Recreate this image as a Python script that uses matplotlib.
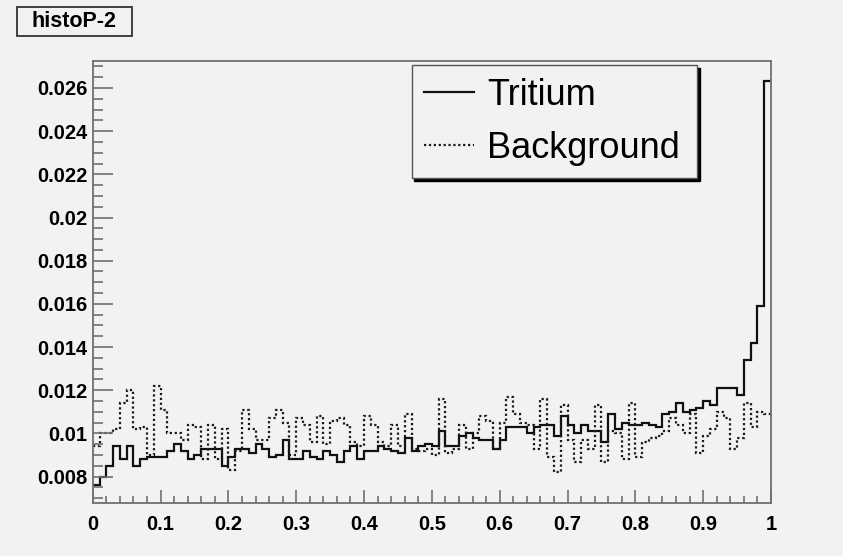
import numpy as np
import matplotlib
matplotlib.use("Agg")
import matplotlib.pyplot as plt
from matplotlib.ticker import MultipleLocator, FixedLocator, FixedFormatter
from matplotlib.patches import Rectangle

# bin contents, 100 bins between 0 and 1
tritium = [
    0.0076, 0.0080, 0.0085, 0.0094, 0.0088, 0.0094, 0.0085, 0.0088, 0.0089, 0.0089,
    0.0089, 0.0092, 0.0095, 0.0092, 0.0088, 0.0090, 0.0093, 0.0093, 0.0093, 0.0085,
    0.0089, 0.0093, 0.0093, 0.0091, 0.0095, 0.0093, 0.0089, 0.0090, 0.0097, 0.0088,
    0.0088, 0.0092, 0.0089, 0.0088, 0.0092, 0.0090, 0.0087, 0.0092, 0.0094, 0.0088,
    0.0092, 0.0092, 0.0094, 0.0093, 0.0092, 0.0091, 0.0098, 0.0092, 0.0094, 0.0095,
    0.0094, 0.0101, 0.0094, 0.0094, 0.0099, 0.0100, 0.0098, 0.0097, 0.0097, 0.0093,
    0.0097, 0.0103, 0.0103, 0.0103, 0.0100, 0.0103, 0.0104, 0.0104, 0.0099, 0.0108,
    0.0104, 0.0100, 0.0104, 0.0101, 0.0101, 0.0096, 0.0109, 0.0102, 0.0105, 0.0104,
    0.0104, 0.0105, 0.0104, 0.0103, 0.0109, 0.0110, 0.0114, 0.0110, 0.0111, 0.0112,
    0.0115, 0.0113, 0.0121, 0.0121, 0.0121, 0.0118, 0.0134, 0.0142, 0.0159, 0.0263,
]
background = [
    0.0094, 0.0100, 0.0100, 0.0102, 0.0114, 0.0120, 0.0102, 0.0103, 0.0090, 0.0122,
    0.0111, 0.0100, 0.0100, 0.0097, 0.0104, 0.0103, 0.0088, 0.0104, 0.0088, 0.0102,
    0.0083, 0.0092, 0.0111, 0.0102, 0.0097, 0.0097, 0.0107, 0.0111, 0.0105, 0.0090,
    0.0107, 0.0104, 0.0096, 0.0108, 0.0095, 0.0106, 0.0107, 0.0104, 0.0096, 0.0094,
    0.0108, 0.0104, 0.0096, 0.0094, 0.0104, 0.0094, 0.0109, 0.0093, 0.0092, 0.0093,
    0.0090, 0.0116, 0.0091, 0.0093, 0.0104, 0.0093, 0.0100, 0.0108, 0.0106, 0.0093,
    0.0105, 0.0117, 0.0109, 0.0105, 0.0104, 0.0093, 0.0116, 0.0089, 0.0082, 0.0113,
    0.0097, 0.0087, 0.0097, 0.0093, 0.0113, 0.0087, 0.0101, 0.0100, 0.0088, 0.0114,
    0.0089, 0.0096, 0.0098, 0.0099, 0.0101, 0.0107, 0.0104, 0.0100, 0.0109, 0.0091,
    0.0099, 0.0102, 0.0110, 0.0107, 0.0093, 0.0098, 0.0114, 0.0103, 0.0110, 0.0109,
]
bin_edges = np.linspace(0.0, 1.0, len(tritium) + 1)

x_ticks = [0.0, 0.1, 0.2, 0.3, 0.4, 0.5, 0.6, 0.7, 0.8, 0.9, 1.0]
x_labels = ["0", "0.1", "0.2", "0.3", "0.4", "0.5", "0.6", "0.7", "0.8", "0.9", "1"]
y_ticks = [0.008, 0.010, 0.012, 0.014, 0.016, 0.018, 0.020, 0.022, 0.024, 0.026]
y_labels = ["0.008", "0.01", "0.012", "0.014", "0.016", "0.018", "0.02", "0.022", "0.024", "0.026"]

plt.rcParams["font.family"] = ["Liberation Sans", "DejaVu Sans"]
bg = "#f2f2f2"
frame_col = "#707070"

fig = plt.figure(figsize=(8.43, 5.56), dpi=100, facecolor=bg)
ax = fig.add_axes([0.110, 0.0953, 0.8046, 0.7955])
ax.set_facecolor(bg)

ax.stairs(tritium, bin_edges, baseline=None, color="#111111", lw=1.6, label="Tritium")
ax.stairs(background, bin_edges, baseline=None, color="#1a1a1a", lw=1.6,
          ls=(0, (1, 1.2)), label="Background")

ax.set_xlim(0, 1)
ax.set_ylim(0.00678, 0.02726)

ax.xaxis.set_major_locator(FixedLocator(x_ticks))
ax.xaxis.set_major_formatter(FixedFormatter(x_labels))
ax.xaxis.set_minor_locator(MultipleLocator(0.02))
ax.yaxis.set_major_locator(FixedLocator(y_ticks))
ax.yaxis.set_major_formatter(FixedFormatter(y_labels))
ax.yaxis.set_minor_locator(MultipleLocator(0.0005))

for s in ax.spines.values():
    s.set_color(frame_col)
    s.set_linewidth(1.3)

ax.tick_params(which="both", direction="in", color=frame_col, width=1.2,
               labelcolor="black", labelsize=14.5)
ax.tick_params(axis="y", which="major", length=14.5, pad=4)
ax.tick_params(axis="y", which="minor", length=7.2)
ax.tick_params(axis="x", which="major", length=9.5, pad=8.5)
ax.tick_params(axis="x", which="minor", length=4.8)
for lbl in ax.get_xticklabels() + ax.get_yticklabels():
    lbl.set_fontweight("bold")

leg = ax.legend(loc="upper left", bbox_to_anchor=(0.47, 0.738, 0.4205, 0.252),
                mode="expand", fontsize=26, frameon=True, fancybox=False,
                shadow={"color": "black", "alpha": 1.0}, borderpad=0.35,
                labelspacing=0.5, handlelength=1.38, handletextpad=0.36,
                borderaxespad=0)
leg.get_frame().set_edgecolor("#555555")
leg.get_frame().set_linewidth(1.0)
leg.get_frame().set_facecolor(bg)

# title box in the top left corner
fig.add_artist(Rectangle((16.7 / 843, 1 - 35.7 / 556), 115 / 843, 28.4 / 556,
                         transform=fig.transFigure, facecolor=bg,
                         edgecolor="#333333", lw=1.3))
fig.text(74 / 843, 1 - 21.5 / 556, "histoP-2", ha="center", va="center",
         fontsize=15.5, fontweight="bold")

fig.savefig("out.png", dpi=100, facecolor=bg)
